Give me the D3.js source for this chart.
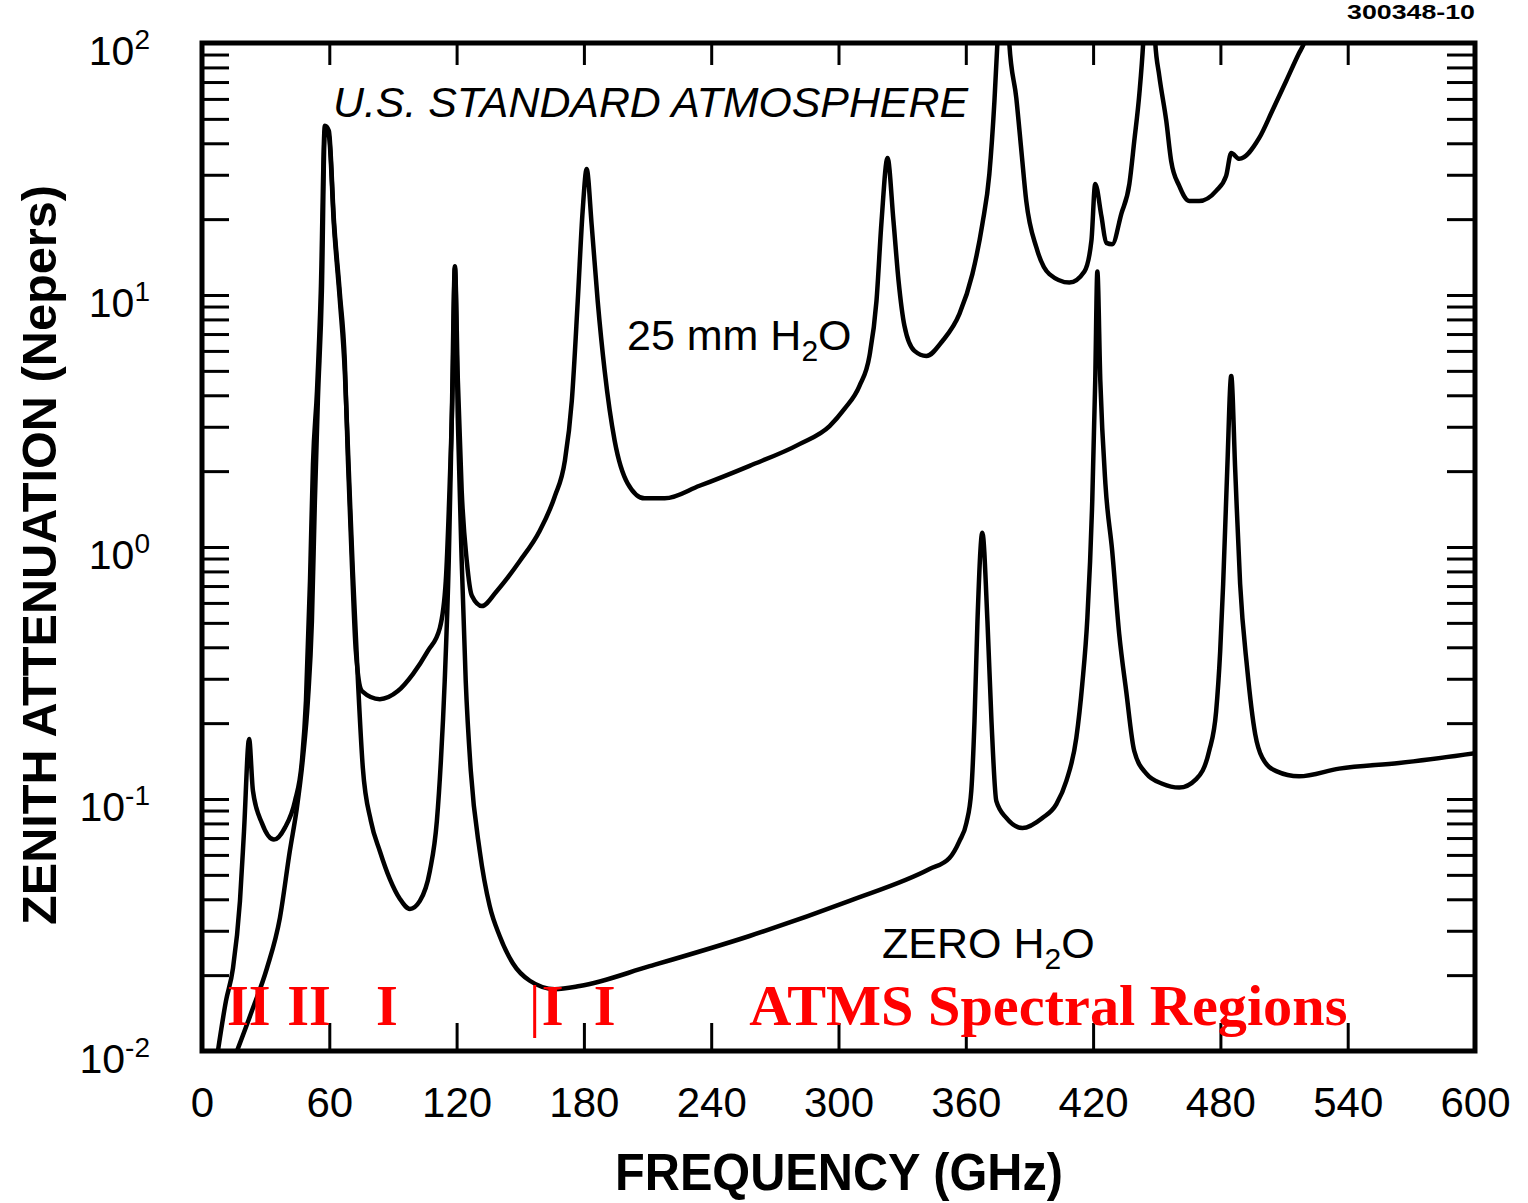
<!DOCTYPE html>
<html>
<head>
<meta charset="utf-8">
<script src="https://cdn.jsdelivr.net/npm/d3@7/dist/d3.min.js"></script>
<style>
  html, body { margin: 0; padding: 0; background: #fff; }
  svg { display: block; }
</style>
</head>
<body>
<svg id="chart" width="1528" height="1203"></svg>
<script>
// Zenith attenuation (Nepers) vs frequency (GHz), U.S. standard atmosphere.

// 25 mm precipitable water vapour
const wetFreq = [7.5, 11.3, 14.6, 17.9, 19.8, 22.2, 24.0, 28.3, 33.9, 39.1, 43.8, 47.1, 49.0, 50.9, 52.3, 54.2, 56.0, 57.9, 59.8, 62.2,
  65.0, 67.3, 68.8, 70.6, 72.5, 75.4, 83.8, 92.3, 99.4, 106.4, 112.1, 114.9, 116.8, 118.2, 119.2, 120.6, 122.4, 124.8, 127.2, 131.9,
  138.9, 149.8, 159.2, 166.3, 171.0, 174.3, 177.1, 179.4, 181.3, 183.7, 186.5, 189.8, 194.5, 200.6, 208.6, 218.1, 234.5, 258.1, 281.6, 295.8,
  302.8, 309.9, 314.6, 317.9, 320.3, 323.1, 325.9, 328.3, 331.1, 335.8, 341.4, 349.0, 357.0, 363.1, 367.8, 371.1, 373.5, 374.9, 377.5, 380.5,
  383.8, 386.2, 388.5, 393.3, 399.4, 408.8, 415.9, 419.2, 421.0, 423.9, 426.2, 429.0, 433.3, 437.1, 439.4, 441.8, 443.6, 446.5, 449.3, 451.2,
  454.5, 456.8, 460.6, 465.3, 470.0, 478.0, 482.7, 485.1, 488.9, 498.3, 504.4, 511.0, 517.1, 519.5, 525.0, 530.0];
const wetAtten = [0.0100, 0.0158, 0.0213, 0.0394, 0.0746, 0.173, 0.108, 0.080, 0.069, 0.077, 0.098, 0.142, 0.245, 0.733, 2.13, 4.16, 10.4, 46.9, 44.8, 19.7,
  10.1, 5.47, 2.19, 0.88, 0.386, 0.268, 0.249, 0.268, 0.313, 0.386, 0.477, 0.733, 1.83, 4.56, 13.0, 4.56, 1.67, 0.88, 0.64, 0.583,
  0.668, 0.88, 1.16, 1.59, 2.19, 3.80, 9.47, 21.5, 31.6, 18.8, 9.47, 4.99, 2.64, 1.79, 1.56, 1.56, 1.75, 2.10, 2.56, 3.02,
  3.53, 4.36, 5.73, 9.47, 19.7, 35.0, 19.7, 11.4, 7.53, 6.00, 5.73, 6.57, 8.41, 12.1, 19.1, 30.2, 58.9, 100, 400, 100,
  60.5, 37.3, 23.6, 15.4, 12.1, 11.2, 12.4, 16.4, 27.6, 20.6, 16.1, 15.9, 21.0, 27.6, 40.8, 62.8, 100, 400, 100, 74.0,
  49.0, 34.0, 27.1, 23.6, 23.6, 25.9, 29.7, 36.6, 34.7, 42.0, 53.7, 70.7, 91.3, 100, 150, 200];

// dry atmosphere (zero water vapour)
const dryFreq = [16.5, 23.5, 30.6, 36.7, 41.4, 44.7, 47.6, 49.9, 51.8, 53.2, 54.6, 56.5, 57.9, 59.8, 62.2, 65.0, 67.3, 69.2, 71.1, 73.5,
  75.8, 79.6, 83.8, 88.5, 93.3, 98.0, 102.7, 107.4, 110.7, 112.6, 114.4, 116.3, 117.7, 119.2, 120.6, 122.4, 124.3, 126.7, 130.9, 135.6,
  140.3, 146.5, 154.5, 166.3, 178.0, 211.0, 258.1, 305.2, 342.9, 352.3, 357.0, 360.3, 362.6, 364.1, 365.5, 367.8, 370.2, 372.1, 374.4, 379.1,
  386.7, 396.1, 402.7, 407.4, 412.1, 414.9, 417.3, 419.6, 421.0, 422.0, 423.4, 425.8, 429.0, 432.3, 435.6, 439.4, 445.1, 452.6, 460.6, 468.6,
  474.7, 478.0, 479.9, 481.3, 483.2, 485.1, 487.0, 489.3, 492.6, 496.4, 499.7, 506.3, 517.1, 536.0, 564.2, 600.0];
const dryAtten = [0.0100, 0.0144, 0.0213, 0.0337, 0.0622, 0.092, 0.146, 0.245, 0.508, 1.52, 3.80, 10.4, 44.8, 42.7, 18.8, 9.47, 4.99, 2.00, 0.80, 0.294,
  0.133, 0.0818, 0.0622, 0.0482, 0.0401, 0.0366, 0.0394, 0.0518, 0.0818, 0.142, 0.294, 0.88, 3.16, 12.8, 3.16, 0.88, 0.294, 0.129, 0.0622, 0.0376,
  0.0286, 0.0223, 0.0190, 0.0176, 0.0181, 0.0217, 0.0286, 0.0394, 0.0527, 0.0583, 0.0681, 0.0804, 0.108, 0.204, 0.508, 1.14, 0.508, 0.204, 0.098, 0.0841,
  0.0767, 0.0841, 0.0955, 0.118, 0.175, 0.286, 0.523, 1.52, 4.56, 12.4, 4.56, 1.78, 0.964, 0.452, 0.268, 0.155, 0.126, 0.115, 0.111, 0.120,
  0.155, 0.223, 0.386, 0.713, 2.00, 4.77, 2.00, 0.713, 0.331, 0.181, 0.146, 0.129, 0.123, 0.132, 0.139, 0.152];

// axis ticks
const xTickValues = [0, 60, 120, 180, 240, 300, 360, 420, 480, 540, 600];
const yExponents = [-2, -1, 0, 1, 2];

// ATMS channel region markers along the bottom
const atmsMarks = ["II", "II", "I", "I", "I"];
const atmsFreq = [22.1, 50.4, 87.1, 165.3, 189.8];
const atmsRuleFreq = [156.8];

const svg = d3.select("#chart");
const X0 = 202, X1 = 1475, Y0 = 43, Y1 = 1051;

const x = d3.scaleLinear().domain([0, 600]).range([X0, X1]);
const y = d3.scaleLog().domain([0.01, 100]).range([Y1, Y0]);

const sans = "'Liberation Sans', Arial, Helvetica, sans-serif";
const serif = "'Liberation Serif', 'Times New Roman', Times, serif";

svg.append("defs").append("clipPath").attr("id", "plot-clip")
  .append("rect").attr("x", X0).attr("y", Y0).attr("width", X1 - X0).attr("height", Y1 - Y0);

// log minor ticks for each decade
const logTicks = [];
for (let e = -2; e < 2; e++) for (let m = 1; m < 10; m++) logTicks.push(m * Math.pow(10, e));
logTicks.push(100);

function styleAxis(g) {
  g.select(".domain").remove();
  g.selectAll(".tick line").attr("stroke", "#000").attr("stroke-width", 3);
  g.selectAll(".tick text").remove();
}

// inward ticks on all four sides
svg.append("g").attr("transform", `translate(${X0},0)`)
  .call(d3.axisRight(y).tickValues(logTicks).tickSize(27)).call(styleAxis);
svg.append("g").attr("transform", `translate(${X1},0)`)
  .call(d3.axisLeft(y).tickValues(logTicks).tickSize(28)).call(styleAxis);
svg.append("g").attr("transform", `translate(0,${Y0})`)
  .call(d3.axisBottom(x).tickValues(xTickValues.slice(1, -1)).tickSize(22)).call(styleAxis);
svg.append("g").attr("transform", `translate(0,${Y1})`)
  .call(d3.axisTop(x).tickValues(xTickValues.slice(1, -1)).tickSize(28)).call(styleAxis);

// x tick labels
const xl = svg.append("g").attr("transform", `translate(0,${Y1})`)
  .call(d3.axisBottom(x).tickValues(xTickValues).tickSize(0).tickPadding(36).tickFormat(d3.format("d")));
xl.select(".domain").remove();
xl.selectAll(".tick text").attr("font-family", sans).attr("font-size", 42).attr("fill", "#000");

// y tick labels: 10 with superscript exponent
const yl = svg.append("g");
yExponents.forEach(e => {
  const t = yl.append("text")
    .attr("x", 150).attr("y", y(Math.pow(10, e)) + 22)
    .attr("text-anchor", "end")
    .attr("font-family", sans).attr("font-size", 41).attr("fill", "#000");
  t.append("tspan").text("10");
  t.append("tspan").attr("dy", -16).attr("font-size", 28).text(e < 0 ? "-" + Math.abs(e) : String(e));
});

// curves
const line = d3.line().x(d => x(d[0])).y(d => y(d[1])).curve(d3.curveMonotoneX);
const curves = svg.append("g").attr("clip-path", "url(#plot-clip)");
curves.append("path")
  .datum(wetFreq.map((f, i) => [f, wetAtten[i]]))
  .attr("d", line).attr("fill", "none").attr("stroke", "#000").attr("stroke-width", 4.5).attr("stroke-linejoin", "round");
curves.append("path")
  .datum(dryFreq.map((f, i) => [f, dryAtten[i]]))
  .attr("d", line).attr("fill", "none").attr("stroke", "#000").attr("stroke-width", 4.5).attr("stroke-linejoin", "round");

// plot frame
svg.append("rect").attr("x", X0).attr("y", Y0).attr("width", X1 - X0).attr("height", Y1 - Y0)
  .attr("fill", "none").attr("stroke", "#000").attr("stroke-width", 5);

// annotations
svg.append("text").attr("x", 333).attr("y", 117)
  .attr("font-family", sans).attr("font-style", "italic").attr("font-size", 43)
  .attr("textLength", 635).attr("lengthAdjust", "spacingAndGlyphs")
  .text("U.S. STANDARD ATMOSPHERE");

function waterLabel(px, py, lead) {
  const t = svg.append("text").attr("x", px).attr("y", py)
    .attr("font-family", sans).attr("font-size", 43).attr("fill", "#000");
  t.append("tspan").text(lead + "H");
  t.append("tspan").attr("dy", 11).attr("font-size", 30).text("2");
  t.append("tspan").attr("dy", -11).text("O");
}
waterLabel(627, 350, "25 mm ");
waterLabel(882, 958, "ZERO ");

svg.append("text").attr("x", 1347).attr("y", 19)
  .attr("font-family", sans).attr("font-weight", "bold").attr("font-size", 21)
  .attr("textLength", 128).attr("lengthAdjust", "spacingAndGlyphs")
  .text("300348-10");

// axis titles
svg.append("text").attr("x", 615).attr("y", 1190)
  .attr("font-family", sans).attr("font-weight", "bold").attr("font-size", 52)
  .attr("textLength", 448).attr("lengthAdjust", "spacingAndGlyphs")
  .text("FREQUENCY (GHz)");
svg.append("text")
  .attr("transform", "translate(56,925) rotate(-90)")
  .attr("font-family", sans).attr("font-weight", "bold").attr("font-size", 48)
  .attr("textLength", 740).attr("lengthAdjust", "spacingAndGlyphs")
  .text("ZENITH ATTENUATION (Nepers)");

// ATMS spectral region markers
const red = "#ff0000";
const atms = svg.append("g").attr("fill", red)
  .attr("font-family", serif).attr("font-weight", "bold").attr("font-size", 56);
atmsMarks.forEach((m, i) => {
  atms.append("text").attr("x", x(atmsFreq[i])).attr("y", 1025).attr("text-anchor", "middle").text(m);
});
atmsRuleFreq.forEach(f => {
  svg.append("line").attr("x1", x(f)).attr("x2", x(f)).attr("y1", 985).attr("y2", 1038)
    .attr("stroke", red).attr("stroke-width", 3);
});
atms.append("text").attr("x", x(258)).attr("y", 1025)
  .attr("textLength", 598).attr("lengthAdjust", "spacingAndGlyphs")
  .text("ATMS Spectral Regions");
</script>
</body>
</html>
